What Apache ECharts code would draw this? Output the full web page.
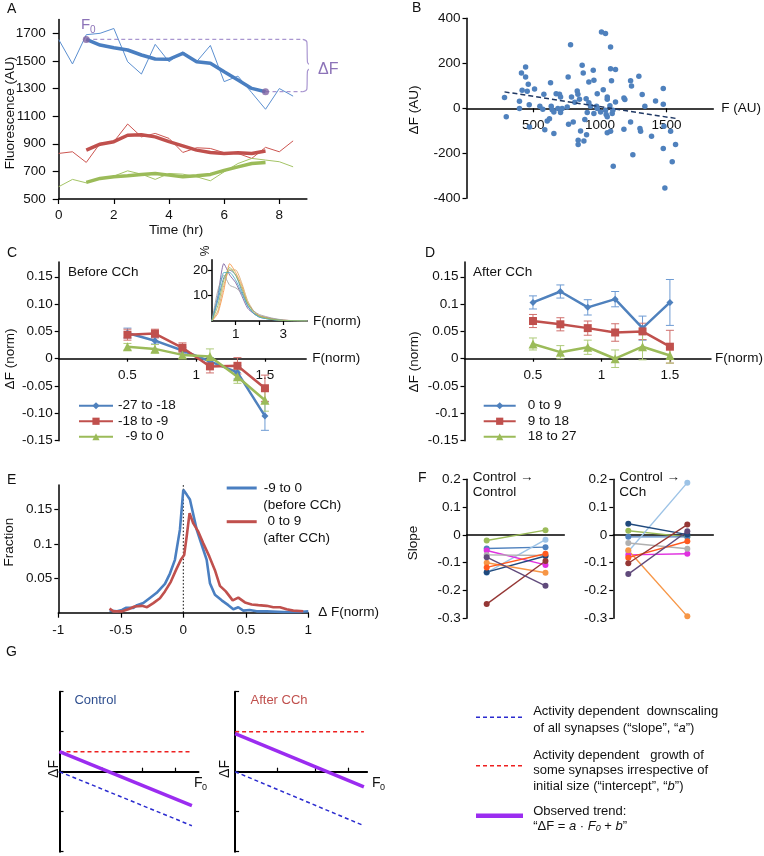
<!DOCTYPE html>
<html>
<head>
<meta charset="utf-8">
<script src="https://cdn.jsdelivr.net/npm/echarts@6.0.0/dist/echarts.min.js"></script>
<style>
  html, body { margin: 0; padding: 0; background: #fff; }
  #chart { width: 764px; height: 856px; }
</style>
</head>
<body>
<div id="chart"></div>
<script>
// ---------- A: fluorescence over time ----------
const timeRaw = [0, 0.5, 1, 1.5, 2, 2.5, 3, 3.5, 4, 4.5, 5, 5.5, 6, 6.5, 7, 7.5, 8, 8.5];
const blueRaw = [1655, 1478, 1690, 1700, 1735, 1494, 1405, 1620, 1494, 1565, 1494, 1612, 1350, 1390, 1270, 1150, 1300, 1245];
const redRaw = [830, 842, 765, 903, 915, 1043, 950, 975, 939, 837, 871, 866, 835, 830, 794, 874, 842, 921];
const greenRaw = [589, 642, 617, 649, 666, 704, 680, 642, 685, 680, 661, 632, 697, 757, 794, 782, 770, 733];
const timeSmooth = [1, 1.5, 2, 2.5, 3, 3.5, 4, 4.5, 5, 5.5, 6, 6.5, 7, 7.5];
const blueSmooth = [1656, 1615, 1595, 1579, 1543, 1514, 1512, 1555, 1494, 1483, 1422, 1362, 1301, 1277];
const redSmooth = [854, 897, 915, 962, 965, 950, 915, 885, 854, 837, 830, 835, 830, 847];
const greenSmooth = [620, 649, 661, 668, 678, 685, 673, 661, 668, 678, 707, 733, 757, 764];
const guideEndT = 8.85;
const braceT = [8.85, 9.0, 9.02, 9.2, 9.02, 9.0, 8.85];
const braceV = [1656, 1636, 1490, 1458, 1426, 1297, 1277];
const timeTicks = [0, 2, 4, 6, 8];
const fluoTicks = [500, 700, 900, 1100, 1300, 1500, 1700];

// ---------- B: dF vs F scatter ----------
const bF = [285, 298, 397, 397, 412, 417, 443, 443, 455, 463, 470, 472, 510, 550, 572, 580, 587, 605, 622, 630,
  635, 642, 655, 655, 672, 685, 697, 705, 705, 717, 755, 762, 765, 780, 787, 800, 812, 830, 835, 837,
  837, 847, 855, 867, 875, 880, 887, 897, 900, 905, 917, 917, 930, 950, 955, 955, 975, 980, 980, 1005,
  1012, 1025, 1042, 1042, 1047, 1055, 1055, 1055, 1055, 1075, 1080, 1080, 1080, 1087, 1092, 1097, 1100, 1117, 1117, 1180,
  1180, 1187, 1230, 1237, 1247, 1230, 1292, 1300, 1305, 1317, 1337, 1387, 1417, 1475, 1475, 1480, 1475, 1487, 1530, 1542, 1567];
const bDF = [48, -37, 31, -1, 157, 80, 184, 139, 76, 107, 16, -83, 86, 9, -4, 62, -95, -56, -46, 114,
  9, -6, -16, -112, 65, -1, 62, -19, 50, -1, 6, 139, -71, 283, 50, -61, 27, 77, 62, -142,
  -161, 40, -101, 191, 157, -145, -50, 43, -117, -19, 117, 25, 9, 169, 125, -23, 9, -1, 65, -16,
  339, 83, 332, -9, -28, 50, 40, -38, -109, 11, 273, 176, -102, 122, -23, -9, -258, 173, 28, -93,
  46, 39, 122, 99, -206, -61, 142, -90, -102, 61, 9, -124, 33, 88, 18, -80, -179, -354, -102, -238, -161];
const bFitF = [285, 1580];
const bFitDF = [73, -46];
const bXTicks = [500, 1000, 1500];
const bYTicks = [-400, -200, 0, 200, 400];

// ---------- C / D: dF(norm) vs F(norm) ----------
const normBins = [0.5, 0.7, 0.9, 1.1, 1.3, 1.5];
const normTicks = [0.5, 1, 1.5];
const dfTicks = [-0.15, -0.1, -0.05, 0, 0.05, 0.1, 0.15];
const cNames = ['-27 to -18', '-18 to -9', '  -9 to 0'];
const cMean1 = [0.047, 0.033, 0.015, -0.005, -0.025, -0.105];
const cErr1 = [0.009, 0.006, 0.006, 0.007, 0.012, 0.026];
const cMean2 = [0.044, 0.046, 0.020, -0.014, -0.013, -0.054];
const cErr2 = [0.010, 0.008, 0.009, 0.012, 0.015, 0.024];
const cMean3 = [0.022, 0.018, 0.007, 0.004, -0.033, -0.076];
const cErr3 = [0.006, 0.008, 0.006, 0.014, 0.012, 0.020];
const dNames = ['0 to 9', '9 to 18', '18 to 27'];
const dMean1 = [0.103, 0.123, 0.094, 0.109, 0.056, 0.103];
const dErr1 = [0.012, 0.012, 0.014, 0.014, 0.022, 0.042];
const dMean2 = [0.069, 0.063, 0.056, 0.048, 0.050, 0.022];
const dErr2 = [0.012, 0.012, 0.013, 0.016, 0.015, 0.030];
const dMean3 = [0.027, 0.012, 0.021, 0.000, 0.022, 0.006];
const dErr3 = [0.011, 0.012, 0.013, 0.016, 0.024, 0.014];

// inset: size distributions (%)
const insetX = [0, 0.25, 0.5, 0.75, 1, 1.25, 1.5, 1.75, 2, 2.5, 3, 3.5, 4];
const insetCurves = [
  [0, 8, 17, 20, 18, 12, 6, 3, 1.5, 0.6, 0.2, 0.1, 0],
  [0, 10, 22.5, 18, 15, 10, 5, 3, 2, 1, 0.3, 0.1, 0],
  [0, 3, 12, 22.5, 19, 14, 7, 4, 2, 0.8, 0.3, 0.1, 0],
  [0, 4, 14, 20, 20, 15, 8, 4, 2, 0.8, 0.3, 0.1, 0],
  [0, 12, 18, 14, 13, 11, 7, 4, 2.5, 1.2, 0.4, 0.1, 0],
  [0, 9, 19, 19, 16, 11, 6, 3, 1.5, 0.6, 0.2, 0.1, 0],
  [0, 6, 16, 21, 18, 13, 7, 3.5, 1.8, 0.7, 0.2, 0.1, 0],
];
const insetColors = ['#4f81bd', '#8064a2', '#f79646', '#d9a86c', '#a5a5a5', '#4bacc6', '#9bbb59'];

// ---------- E: distributions of dF ----------
const eBeforeX = [-0.59, -0.53, -0.49, -0.46, -0.40, -0.37, -0.32, -0.27, -0.213, -0.147, -0.107, -0.067, -0.027, 0, 0.027, 0.053,
  0.107, 0.147, 0.187, 0.213, 0.253, 0.307, 0.36, 0.40, 0.44, 0.48, 0.53, 0.587, 0.667, 0.8, 0.93, 1.0];
const eBeforeY = [0.003, 0.002, 0.004, 0.007, 0.007, 0.011, 0.014, 0.021, 0.029, 0.042, 0.057, 0.077, 0.121, 0.179, 0.172, 0.165,
  0.121, 0.099, 0.077, 0.043, 0.026, 0.018, 0.011, 0.005, 0.008, 0.003, 0.004, 0.002, 0.002, 0.001, 0.001, 0.002];
const eAfterX = [-0.59, -0.56, -0.49, -0.44, -0.39, -0.33, -0.29, -0.24, -0.187, -0.147, -0.1, -0.059, -0.02, 0.007, 0.027, 0.05, 0.08,
  0.12, 0.16, 0.208, 0.253, 0.293, 0.34, 0.395, 0.44, 0.493, 0.547, 0.6, 0.667, 0.72, 0.773, 0.827, 0.88, 0.96];
const eAfterY = [0.006, 0.002, 0.002, 0.005, 0.009, 0.010, 0.008, 0.014, 0.021, 0.031, 0.045, 0.062, 0.077, 0.084, 0.111, 0.145, 0.130,
  0.118, 0.101, 0.082, 0.062, 0.039, 0.031, 0.018, 0.022, 0.015, 0.012, 0.011, 0.010, 0.008, 0.008, 0.005, 0.003, 0.002];
const eXTicks = [-1, -0.5, 0, 0.5, 1];
const eYTicks = [0.05, 0.1, 0.15];

// ---------- F: slopes per culture ----------
const slopeColors = ['#9bbb59', '#4f81bd', '#9dc3e6', '#e030e0', '#b0b0b0', '#1f497d', '#f79646', '#ff5a1f', '#953735', '#604a7b'];
const ctrlBefore = [-0.020, -0.049, -0.136, -0.056, -0.072, -0.134, -0.100, -0.117, -0.249, -0.080];
const ctrlAfter = [0.017, -0.044, -0.017, -0.108, -0.074, -0.076, -0.136, -0.068, -0.094, -0.183];
const cchBefore = [0.015, -0.007, -0.060, -0.072, -0.029, 0.040, -0.055, -0.082, -0.102, -0.141];
const cchAfter = [-0.007, -0.007, 0.188, -0.068, -0.050, 0.001, -0.293, -0.023, 0.037, 0.013];
const slopeTicks = [-0.3, -0.2, -0.1, 0, 0.1, 0.2];

// ---------- G: schematic ----------
const gF0 = [0, 4];
const gCtrlGrowth = [0.5, 0.5];
const gCtrlDown = [0, -1.35];
const gCtrlTrend = [0.5, -0.85];
const gCchGrowth = [1.0, 1.0];
const gCchDown = [0, -1.35];
const gCchTrend = [0.95, -0.38];

const FONT = '"Liberation Sans", Arial, sans-serif';
const INK = '#111';
const BLUE = '#4f81bd', RED = '#c0504d', GREEN = '#9bbb59';

const zip = (xs, ys) => xs.map((x, i) => [x, ys[i]]);

// x axes sitting on y = 0 are pushed up with offset (keeps labels on the line)
function valAxis(gi, min, max, o) {
  o = o || {};
  return {
    type: 'value', gridIndex: gi, min: min, max: max, offset: o.offset || 0,
    splitLine: { show: false },
    axisLine: { show: true, onZero: false, lineStyle: { color: '#000', width: o.lineWidth || 1.5 } },
    axisTick: { show: !!o.ticks, customValues: o.ticks, length: o.tickLen || 4, inside: !!o.inside, lineStyle: { color: '#000', width: 1.2 } },
    axisLabel: { show: !!o.labels, customValues: o.labels, formatter: o.fmt || (v => String(v)), margin: o.margin || 6, fontFamily: FONT, fontSize: 13.5, color: INK },
    name: o.name || '', nameLocation: 'end', nameGap: o.nameGap || 6,
    nameTextStyle: { fontFamily: FONT, fontSize: 13.5, color: INK, align: 'left', verticalAlign: 'middle' },
  };
}

const fmt2 = v => (Math.abs(v) < 1e-9 ? '0' : v.toFixed(2));
const fmtShort = v => (Math.abs(v) < 1e-9 ? '0' : String(Math.round(v * 100) / 100));

function lineS(gi, data, color, width, extra) {
  return Object.assign({
    type: 'line', xAxisIndex: gi, yAxisIndex: gi, data: data, symbol: 'none',
    lineStyle: { color: color, width: width }, itemStyle: { color: color }, silent: true, z: 3,
  }, extra || {});
}

function errorBars(gi, xs, ys, es, color) {
  return {
    type: 'custom', xAxisIndex: gi, yAxisIndex: gi, silent: true, z: 2,
    data: xs.map((x, i) => [x, ys[i], es[i]]),
    encode: { x: 0, y: 1 },
    renderItem: function (params, api) {
      const x = api.value(0), y = api.value(1), e = api.value(2);
      const hi = api.coord([x, y + e]);
      const lo = api.coord([x, y - e]);
      const w = 4;
      const style = { stroke: color, lineWidth: 1 };
      return {
        type: 'group', children: [
          { type: 'line', shape: { x1: hi[0], y1: hi[1], x2: lo[0], y2: lo[1] }, style: style },
          { type: 'line', shape: { x1: hi[0] - w, y1: hi[1], x2: hi[0] + w, y2: hi[1] }, style: style },
          { type: 'line', shape: { x1: lo[0] - w, y1: lo[1], x2: lo[0] + w, y2: lo[1] }, style: style },
        ],
      };
    },
  };
}

const grid = [
  { left: 58.7, top: 19.5, width: 248.2, height: 179.5 },   // A
  { left: 466.5, top: 18.3, width: 246.8, height: 180 },    // B
  { left: 58.7, top: 262, width: 247.5, height: 178.7 },    // C
  { left: 211.9, top: 259.8, width: 95.2, height: 61.2 },   // C inset
  { left: 464.5, top: 262, width: 247.5, height: 178.7 },   // D
  { left: 58.3, top: 485, width: 250, height: 127.7 },      // E
  { left: 466.7, top: 479.3, width: 97.6, height: 139 },    // F left
  { left: 613.3, top: 479.3, width: 100, height: 139 },     // F right
  { left: 59.5, top: 691.7, width: 139, height: 160 },      // G left
  { left: 235.1, top: 691.7, width: 132, height: 160 },     // G right
];

const xAxis = [
  valAxis(0, 0, 9, { ticks: timeTicks, labels: timeTicks, tickLen: 5, margin: 9 }),
  valAxis(1, 0, 1850, { ticks: bXTicks, labels: bXTicks, margin: 10, name: 'F (AU)', nameGap: 8, offset: -90 }),
  valAxis(2, 0, 1.8, { ticks: normTicks, labels: normTicks, tickLen: 3, margin: 10, name: 'F(norm)', nameGap: 6, offset: -82 }),
  valAxis(3, 0, 4, { ticks: [1, 2, 3], labels: [1, 3], margin: 6, name: 'F(norm)', nameGap: 6 }),
  valAxis(4, 0, 1.8, { ticks: normTicks, labels: normTicks, tickLen: 3, margin: 10, name: 'F(norm)', nameGap: 4, offset: -82 }),
  valAxis(5, -1, 1, { ticks: eXTicks, labels: eXTicks, tickLen: 5, margin: 11, name: 'Δ F(norm)', nameGap: 10 }),
  valAxis(6, -0.34, 1.32, { offset: -83.4 }),
  valAxis(7, -0.254, 1.44, { offset: -83.4 }),
  valAxis(8, 0, 4.2, { ticks: [1.3, 2.5, 3.5], inside: true, lineWidth: 2, offset: -80 }),
  valAxis(9, 0, 4.1, { ticks: [1.3, 2.5, 3.5], inside: true, lineWidth: 2, offset: -80 }),
];

const yAxis = [
  valAxis(0, 500, 1800, { ticks: fluoTicks, labels: fluoTicks, tickLen: 6, margin: 13 }),
  valAxis(1, -400, 400, { ticks: bYTicks, labels: bYTicks }),
  valAxis(2, -0.15, 0.177, { ticks: dfTicks, labels: dfTicks, fmt: fmt2 }),
  valAxis(3, 0, 24, { ticks: [10, 20], labels: [10, 20], margin: 4 }),
  valAxis(4, -0.15, 0.177, { ticks: dfTicks, labels: dfTicks, fmt: fmtShort }),
  valAxis(5, 0, 0.186, { ticks: eYTicks, labels: eYTicks }),
  valAxis(6, -0.3, 0.2, { ticks: slopeTicks, labels: slopeTicks, fmt: fmtShort }),
  valAxis(7, -0.3, 0.2, { ticks: slopeTicks, labels: slopeTicks, fmt: fmtShort }),
  valAxis(8, -2, 2, { ticks: [-2, -1, 0, 1, 2], inside: true, lineWidth: 2 }),
  valAxis(9, -2, 2, { ticks: [-2, -1, 0, 1, 2], inside: true, lineWidth: 2 }),
];

const series = [];
// A
series.push(lineS(0, zip(timeRaw, blueRaw), '#5b8fd0', 1));
series.push(lineS(0, zip(timeRaw, redRaw), '#cc5550', 1));
series.push(lineS(0, zip(timeRaw, greenRaw), '#a4c466', 1));
series.push(lineS(0, zip(timeSmooth, blueSmooth), '#4a7fc1', 3.5));
series.push(lineS(0, zip(timeSmooth, redSmooth), '#c0504d', 3.5));
series.push(lineS(0, zip(timeSmooth, greenSmooth), '#9bbb59', 3.5));
series.push(lineS(0, [[timeSmooth[0], blueSmooth[0]], [guideEndT, blueSmooth[0]]], '#a996d0', 1.2, { lineStyle: { color: '#a996d0', width: 1.2, type: [4, 3] }, z: 2 }));
series.push(lineS(0, [[timeSmooth[13], blueSmooth[13]], [guideEndT, blueSmooth[13]]], '#a996d0', 1.2, { lineStyle: { color: '#a996d0', width: 1.2, type: [4, 3] }, z: 2 }));
series.push(lineS(0, zip(braceT, braceV), '#a996d0', 1.2, { smooth: 0.4, clip: false }));
series.push({
  type: 'scatter', xAxisIndex: 0, yAxisIndex: 0, silent: true, z: 5, symbolSize: 7,
  itemStyle: { color: '#8064a2' },
  data: [[timeSmooth[0], blueSmooth[0]], [timeSmooth[13], blueSmooth[13]]],
});

// B
series.push({
  type: 'scatter', xAxisIndex: 1, yAxisIndex: 1, silent: true, symbolSize: 5.5,
  itemStyle: { color: '#4f81bd', opacity: 1 }, data: zip(bF, bDF),
});
series.push(lineS(1, zip(bFitF, bFitDF), '#1f3864', 1.5, { lineStyle: { color: '#1f3864', width: 1.5, type: [5, 3] }, z: 4 }));

// C and D
const markers = ['diamond', 'rect', 'triangle'];
const markerSize = [7, 8, 9];
const groupColors = [BLUE, RED, GREEN];
const errColors = ['#6e9bd3', '#cf6f6c', '#afcb7a'];
const cMeans = [cMean1, cMean2, cMean3], cErrs = [cErr1, cErr2, cErr3];
const dMeans = [dMean1, dMean2, dMean3], dErrs = [dErr1, dErr2, dErr3];
for (let k = 0; k < 3; k++) {
  series.push(errorBars(2, normBins, cMeans[k], cErrs[k], errColors[k]));
  series.push(lineS(2, zip(normBins, cMeans[k]), groupColors[k], 2.5, {
    name: cNames[k], symbol: markers[k], symbolSize: markerSize[k], showSymbol: true,
  }));
  series.push(errorBars(4, normBins, dMeans[k], dErrs[k], errColors[k]));
  series.push(lineS(4, zip(normBins, dMeans[k]), groupColors[k], 2.5, {
    name: dNames[k], symbol: markers[k], symbolSize: markerSize[k], showSymbol: true,
  }));
}
insetCurves.forEach((c, i) => {
  series.push(lineS(3, zip(insetX, c), insetColors[i], 0.9, { smooth: 0.2 }));
});

// E
series.push(lineS(5, [[0, 0], [0, 0.186]], '#000', 1, { lineStyle: { color: '#000', width: 1, type: [1.5, 2] }, z: 1 }));
series.push(lineS(5, zip(eBeforeX, eBeforeY), '#4a7fc1', 2.6, { name: '-9 to 0' }));
series.push(lineS(5, zip(eAfterX, eAfterY), '#c0504d', 2.6, { name: ' 0 to 9' }));

// F
slopeColors.forEach((c, i) => {
  series.push(lineS(6, [[0, ctrlBefore[i]], [1, ctrlAfter[i]]], c, 1.4, { symbol: 'circle', symbolSize: 6, showSymbol: true }));
  series.push(lineS(7, [[0, cchBefore[i]], [1, cchAfter[i]]], c, 1.4, { symbol: 'circle', symbolSize: 6, showSymbol: true }));
});

// G
const gBlue = '#2b2bcf', gRed = '#ee2020', gPurple = '#9b2cf0';
const dashed = c => ({ lineStyle: { color: c, width: 1.5, type: [4, 3] } });
series.push(lineS(8, zip(gF0, gCtrlGrowth), gRed, 1.5, dashed(gRed)));
series.push(lineS(8, zip(gF0, gCtrlDown), gBlue, 1.5, dashed(gBlue)));
series.push(lineS(8, zip(gF0, gCtrlTrend), gPurple, 3.5));
series.push(lineS(9, zip(gF0, gCchGrowth), gRed, 1.5, dashed(gRed)));
series.push(lineS(9, zip(gF0, gCchDown), gBlue, 1.5, dashed(gBlue)));
series.push(lineS(9, zip(gF0, gCchTrend), gPurple, 3.5));

const legendText = { fontFamily: FONT, fontSize: 13.5, color: INK, lineHeight: 15.5 };
const legend = [
  { data: cNames, left: 78, top: 398, padding: 0, orient: 'vertical', itemWidth: 34, itemHeight: 9, itemGap: 0, selectedMode: false, textStyle: legendText },
  { data: dNames, left: 482.7, top: 398, padding: 0, orient: 'vertical', itemWidth: 32, itemHeight: 9, itemGap: 0, selectedMode: false,
    textStyle: Object.assign({}, legendText, { padding: [0, 0, 0, 7] }) },
  { data: ['-9 to 0', ' 0 to 9'], left: 226.7, top: 480, padding: 0, orient: 'vertical', icon: 'rect', itemWidth: 30, itemHeight: 3, itemGap: 17.7, selectedMode: false,
    textStyle: Object.assign({}, legendText, { lineHeight: 16, padding: [0, 0, 0, 2] }) },
];

function txt(x, y, text, o) {
  o = o || {};
  return {
    type: 'text', x: x, y: y, rotation: o.rot ? Math.PI / 2 : 0, silent: true,
    style: {
      text: text, fontFamily: FONT, fontSize: o.size || 13.5, fill: o.color || INK,
      align: o.align || 'left', verticalAlign: 'middle', rich: o.rich,
    },
  };
}
function gline(x1, x2, y, color, width, dash) {
  return { type: 'line', silent: true, shape: { x1: x1, y1: y, x2: x2, y2: y }, style: { stroke: color, lineWidth: width, lineDash: dash || null } };
}

const italicRich = {
  i: { fontFamily: FONT, fontSize: 13, fontStyle: 'italic', fill: INK },
  s: { fontFamily: FONT, fontSize: 9, fontStyle: 'italic', fill: INK, verticalAlign: 'bottom' },
};

const graphicEls = [
  // A
  txt(7, 9, 'A', { size: 14 }),
  txt(10, 113, 'Fluorescence (AU)', { rot: true, align: 'center' }),
  txt(176, 230, 'Time (hr)', { align: 'center' }),
  txt(81, 25, 'F', { size: 15, color: '#8c73b8' }),
  txt(90, 30, '0', { size: 10, color: '#8c73b8' }),
  txt(318, 70, 'ΔF', { size: 16, color: '#8c73b8' }),
  // B
  txt(412, 8, 'B', { size: 14 }),
  txt(414, 110, 'ΔF (AU)', { rot: true, align: 'center' }),
  // C
  txt(7, 253, 'C', { size: 14 }),
  txt(10, 359, 'ΔF (norm)', { rot: true, align: 'center' }),
  txt(68, 272, 'Before CCh'),
  txt(206, 251, '%', { rot: true, align: 'center', size: 12 }),
  // D
  txt(425, 253, 'D', { size: 14 }),
  txt(414, 362, 'ΔF (norm)', { rot: true, align: 'center' }),
  txt(473, 272, 'After CCh'),
  // E
  txt(7, 480, 'E', { size: 14 }),
  txt(9, 542, 'Fraction', { rot: true, align: 'center' }),
  txt(263.3, 505, '(before CCh)'),
  txt(263.3, 538, '(after CCh)'),
  // F
  txt(418, 478, 'F', { size: 14 }),
  txt(413, 543, 'Slope', { rot: true, align: 'center' }),
  txt(472.7, 477, 'Control →'),
  txt(472.7, 492, 'Control'),
  txt(619.3, 477, 'Control →'),
  txt(619.3, 492, 'CCh'),
  // G
  txt(6, 652, 'G', { size: 14 }),
  txt(74.4, 700, 'Control', { color: '#2f4f8f', size: 13 }),
  txt(250.5, 700, 'After CCh', { color: '#c0504d', size: 13 }),
  txt(54, 769, 'ΔF', { rot: true, align: 'center', size: 14 }),
  txt(194, 783, 'F', { size: 14 }),
  txt(202, 788, '0', { size: 9 }),
  txt(225.5, 769, 'ΔF', { rot: true, align: 'center', size: 14 }),
  txt(372, 783, 'F', { size: 14 }),
  txt(380, 788, '0', { size: 9 }),
  gline(476, 523, 717.3, gBlue, 1.5, [4, 3]),
  gline(476, 523, 765.7, gRed, 1.5, [4, 3]),
  gline(476, 523, 815.7, gPurple, 4.5),
  txt(533.2, 711.7, 'Activity dependent  downscaling', { size: 13 }),
  txt(533.2, 728.3, 'of all synapses (“slope”, “{i|a}”)', { size: 13, rich: italicRich }),
  txt(533.2, 755, 'Activity dependent   growth of', { size: 13 }),
  txt(533.2, 770.7, 'some synapses irrespective of', { size: 13 }),
  txt(533.2, 786, 'initial size (“intercept”, “{i|b}”)', { size: 13, rich: italicRich }),
  txt(533.2, 811.7, 'Observed trend:', { size: 13 }),
  txt(533.2, 826.7, '“ΔF = {i|a} · {i|F}{s|0} + {i|b}”', { size: 13, rich: italicRich }),
];

const chart = echarts.init(document.getElementById('chart'), null, { renderer: 'canvas' });
chart.setOption({
  backgroundColor: '#fff',
  animation: false,
  textStyle: { fontFamily: FONT },
  grid: grid,
  xAxis: xAxis,
  yAxis: yAxis,
  legend: legend,
  series: series,
  graphic: { elements: graphicEls },
});
window.addEventListener('resize', () => chart.resize());
</script>
</body>
</html>
